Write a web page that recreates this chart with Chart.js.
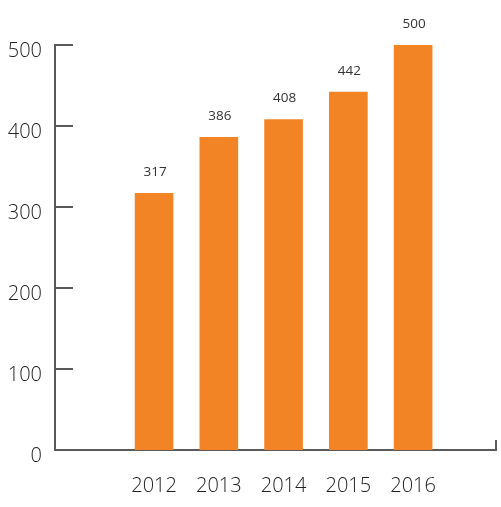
<!DOCTYPE html>
<html>
<head>
<meta charset="utf-8">
<script src="https://cdn.jsdelivr.net/npm/chart.js@4"></script>
<style>
html,body{margin:0;padding:0;background:#fff;}
#wrap{width:501px;height:507px;position:relative;}
</style>
</head>
<body>
<div id="wrap"><canvas id="c"></canvas></div>
<script>
const years = [2012, 2013, 2014, 2015, 2016];
const values = [317, 386, 408, 442, 500];
const yTicks = [0, 100, 200, 300, 400, 500];

const FONT = '"Open Sans", "Noto Sans", sans-serif';
const TEXT = '#222222';
const AXIS = '#5a5a5a';

const decor = {
  id: 'decor',
  afterDatasetsDraw(chart) {
    const ctx = chart.ctx;
    const y = chart.scales.y;
    const area = chart.chartArea;
    ctx.save();
    ctx.strokeStyle = AXIS;
    ctx.lineWidth = 2;
    yTicks.forEach(v => {
      const py = Math.round(y.getPixelForValue(v));
      ctx.beginPath();
      ctx.moveTo(area.left, py);
      ctx.lineTo(area.left + 18, py);
      ctx.stroke();
    });
    ctx.beginPath();
    ctx.moveTo(area.right, area.bottom);
    ctx.lineTo(area.right, area.bottom - 10);
    ctx.stroke();
    ctx.fillStyle = '#333333';
    ctx.font = '13.5px ' + FONT;
    ctx.textAlign = 'center';
    ctx.textBaseline = 'middle';
    const meta = chart.getDatasetMeta(0);
    meta.data.forEach((bar, i) => {
      ctx.fillText(String(values[i]), bar.x + 1, bar.y - 21);
    });
    ctx.restore();
  }
};

new Chart(document.getElementById('c'), {
  type: 'bar',
  data: {
    datasets: [{
      data: years.map((yr, i) => ({ x: yr, y: values[i] })),
      backgroundColor: '#F38426',
      borderWidth: 0,
      barThickness: 38
    }]
  },
  options: {
    responsive: true,
    maintainAspectRatio: false,
    animation: false,
    layout: { padding: { top: 45, right: 5, left: 0, bottom: 0 } },
    plugins: { legend: { display: false }, tooltip: { enabled: false } },
    scales: {
      x: {
        type: 'linear',
        offset: false,
        min: 2010.47,
        max: 2017.28,
        afterBuildTicks: s => { s.ticks = years.map(v => ({ value: v })); },
        afterFit: s => { s.height = 57; },
        grid: { display: false, drawTicks: false, offset: false },
        border: { display: true, color: AXIS, width: 2 },
        ticks: {
          autoSkip: false,
          maxRotation: 0,
          padding: 24,
          color: TEXT,
          font: { family: FONT, size: 20, weight: 300 },
          callback: v => String(v)
        }
      },
      y: {
        min: 0,
        max: 500,
        afterBuildTicks: s => { s.ticks = yTicks.map(v => ({ value: v })); },
        afterFit: s => { s.width = 55; },
        grid: { display: false, drawTicks: false },
        border: { display: true, color: AXIS, width: 2 },
        ticks: {
          padding: 13,
          labelOffset: 6,
          color: TEXT,
          font: { family: FONT, size: 20, weight: 300 }
        }
      }
    }
  },
  plugins: [decor]
});
</script>
</body>
</html>
